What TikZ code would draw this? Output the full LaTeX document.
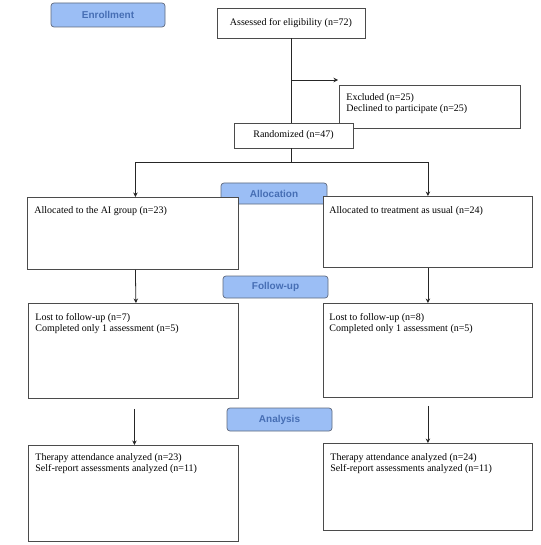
\documentclass[tikz,border=0pt]{standalone}
\usepackage{fontspec}
\setmainfont{Liberation Serif}
\newfontfamily\labfont{Liberation Sans}
\usetikzlibrary{arrows.meta}
\definecolor{labfill}{RGB}{155,190,245}
\definecolor{labdraw}{RGB}{95,105,125}
\definecolor{labtext}{RGB}{70,110,180}
\definecolor{boxline}{RGB}{75,75,75}
\newcommand{\bxt}[5]{\parbox[c][#2pt][t]{#1pt}{\vspace*{#3pt}\raggedright\setlength{\leftskip}{#4pt}\fontsize{10pt}{11.5pt}\selectfont #5}}
\tikzset{
  flowbox/.style={draw=boxline, line width=0.8pt, fill=white, inner sep=0pt, anchor=north west},
  cbox/.style={draw=boxline, line width=0.8pt, fill=white, inner sep=0pt, font=\fontsize{10pt}{12pt}\selectfont},
  stage/.style={draw=labdraw, line width=0.7pt, fill=labfill, rounded corners=3pt, inner sep=0pt,
    text=labtext, font=\labfont\bfseries\fontsize{10pt}{12pt}\selectfont},
  conn/.style={draw=black!85, line width=0.8pt},
  arr/.style={conn, -{Stealth[length=4.5pt,width=4.5pt]}}
}
\begin{document}
\begin{tikzpicture}[x=1pt,y=-1pt]
\useasboundingbox (0,0) rectangle (540,545);
% stage labels
\node[stage, minimum width=114pt, minimum height=24pt] (enr) at (108,15) {Enrollment};
\node[stage, minimum width=106pt, minimum height=21pt] (alo) at (274,193.5) {Allocation};
\node[stage, minimum width=105pt, minimum height=22pt] (fol) at (275.5,287) {Follow-up};
\node[stage, minimum width=105pt, minimum height=23pt] (ana) at (279.5,419.5) {Analysis};
% enrollment
\node[cbox, minimum width=148pt, minimum height=30pt] (ass) at (291,23) {Assessed for eligibility (n=72)};
\node[flowbox] (exc) at (339,85) {\bxt{181}{43}{8}{7}{Excluded (n=25)\\Declined to participate (n=25)}};
\node[cbox, minimum width=119pt, minimum height=25pt] (ran) at (293.5,135.5) {Randomized (n=47)};
% allocation
\node[flowbox] (alL) at (27,197) {\bxt{211}{72}{9}{7}{Allocated to the AI group (n=23)}};
\node[flowbox] (alR) at (323,196) {\bxt{209}{71}{10}{6}{Allocated to treatment as usual (n=24)}};
% follow-up
\node[flowbox] (fuL) at (28,303) {\bxt{210}{95}{10}{7}{Lost to follow-up (n=7)\\Completed only 1 assessment (n=5)}};
\node[flowbox] (fuR) at (323,303) {\bxt{209}{94}{10}{6}{Lost to follow-up (n=8)\\Completed only 1 assessment (n=5)}};
% analysis
\node[flowbox] (anL) at (28,445) {\bxt{210}{96}{8}{7}{Therapy attendance analyzed (n=23)\\Self-report assessments analyzed (n=11)}};
\node[flowbox] (anR) at (323,443) {\bxt{209}{87}{10}{7}{Therapy attendance analyzed (n=24)\\Self-report assessments analyzed (n=11)}};
% connectors
\coordinate (br) at (291,80);
\coordinate (exend) at (338,80);
\coordinate (split) at (291,162);
\draw[conn] (ass.south -| br) -- (ran.north -| br);
\draw[arr] (br) -- (exend);
\draw[conn] (ran.south -| split) -- (split);
\draw[arr] (split) -| ([xshift=2.5pt]alL.north);
\draw[arr] (split) -| (alR.north);
\draw[arr] ([xshift=2.5pt]alL.south) -- ([xshift=2.5pt]fuL.north);
\draw[arr] (alR.south) -- (fuR.north);
\draw[arr] ([xshift=1pt,yshift=-10pt]fuL.south) -- ([xshift=1pt]anL.north);
\draw[arr] ([yshift=-8pt]fuR.south) -- (anR.north);
\end{tikzpicture}
\end{document}
